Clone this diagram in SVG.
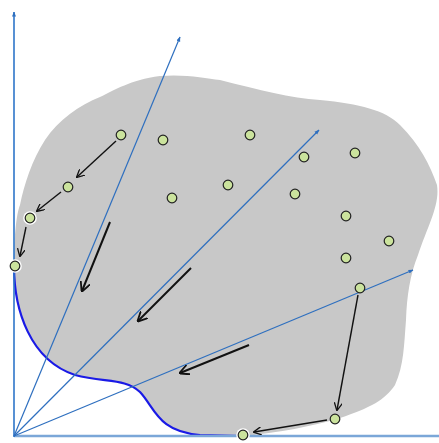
<svg xmlns="http://www.w3.org/2000/svg" width="439" height="443" viewBox="0 0 439 443">
<style>
.ax{stroke:#2e75c9;stroke-width:1.6;fill:none}
.xax{stroke:#7ba7d8;stroke-width:2.5;fill:none}
.ray{stroke:#2e6fbf;stroke-width:1.2;fill:none}
.arr{stroke:#111;stroke-width:1.4;fill:none}
.big{stroke:#111;stroke-width:2;fill:none}
.pt{fill:#cbe39d;stroke:#222;stroke-width:1.2}
.halo{fill:#fff}
</style>
<defs>
<marker id="ab" viewBox="0 0 10 10" refX="9" refY="5" markerWidth="5" markerHeight="5" orient="auto" markerUnits="userSpaceOnUse"><path d="M0,1 L10,5 L0,9 z" fill="#2e6fbf"/></marker>
<marker id="ak" viewBox="0 0 10 10" refX="9" refY="5" markerWidth="8" markerHeight="8" orient="auto" markerUnits="userSpaceOnUse"><path d="M0,0 L10,5 L0,10" fill="none" stroke="#111" stroke-width="1.6"/></marker>
<marker id="akb" viewBox="0 0 10 10" refX="9" refY="5" markerWidth="10" markerHeight="10" orient="auto" markerUnits="userSpaceOnUse"><path d="M0,0 L10,5 L0,10" fill="none" stroke="#111" stroke-width="1.8"/></marker>
</defs>
<g id="region">
<path d="M14,266 C14,240 16,215 20,205 C24,185 32,160 45,140 C58,120 80,105 100,97 C115,90 130,80 160,76 C185,74 205,78 220,80 C260,90 290,98 320,100 C360,104 385,110 400,125 C420,145 430,165 437,185 C440,205 428,225 418,255 C410,275 407,295 406,320 C404,345 404,365 395,385 C385,400 370,408 340,418 C310,427 280,432 245,436 L200,435 C158,432 155,408 140,392 C125,378 105,383 75,375 C30,360 14,310 14,266 Z" fill="#c8c8c8"/>
</g>
<g id="front">
<path d="M14,266 C14,310 30,360 75,375 C105,383 125,378 140,392 C155,408 158,432 200,435 L243,436" fill="none" stroke="#1a1ae6" stroke-width="2.2"/>
</g>
<g id="axes">
<path class="xax" d="M14,436 L439,436"/>
<path class="ax" d="M14,437 L14,12" marker-end="url(#ab)"/>
</g>
<g id="rays">
<path class="ray" d="M14,436 L180,37" marker-end="url(#ab)"/>
<path class="ray" d="M14,436 L319,130" marker-end="url(#ab)"/>
<path class="ray" d="M14,436 L413,270" marker-end="url(#ab)"/>
</g>
<g id="connectors">
<path class="arr" d="M116,141 L77,177" marker-end="url(#ak)"/>
<path class="arr" d="M61,192 L37,211" marker-end="url(#ak)"/>
<path class="arr" d="M26,227 L20,256" marker-end="url(#ak)"/>
<path class="arr" d="M358,295 L337,410" marker-end="url(#ak)"/>
<path class="arr" d="M327,420 L254,432" marker-end="url(#ak)"/>
<path class="big" d="M110,222 L82,291" marker-end="url(#akb)"/>
<path class="big" d="M191,268 L138,321" marker-end="url(#akb)"/>
<path class="big" d="M249,345 L180,373" marker-end="url(#akb)"/>
</g>
<g id="points">
<g id="p1"><circle class="pt" cx="121" cy="135" r="4.8"/></g>
<g id="p2"><circle class="pt" cx="163" cy="140" r="4.8"/></g>
<g id="p3"><circle class="pt" cx="250" cy="135" r="4.8"/></g>
<g id="p4"><circle class="pt" cx="304" cy="157" r="4.8"/></g>
<g id="p5"><circle class="pt" cx="355" cy="153" r="4.8"/></g>
<g id="p6"><circle class="pt" cx="68" cy="187" r="4.8"/></g>
<g id="p7"><circle class="pt" cx="172" cy="198" r="4.8"/></g>
<g id="p8"><circle class="pt" cx="228" cy="185" r="4.8"/></g>
<g id="p9"><circle class="pt" cx="295" cy="194" r="4.8"/></g>
<g id="p10"><circle class="pt" cx="346" cy="216" r="4.8"/></g>
<g id="p11"><circle class="pt" cx="389" cy="241" r="4.8"/></g>
<g id="p12"><circle class="pt" cx="346" cy="258" r="4.8"/></g>
<g id="p13"><circle class="pt" cx="360" cy="288" r="4.8"/></g>
<g id="p14"><circle class="pt" cx="335" cy="419" r="4.8"/></g>
<g id="p15"><circle class="halo" cx="30" cy="218" r="6.8"/><circle class="pt" cx="30" cy="218" r="4.8"/></g>
<g id="p16"><circle class="halo" cx="15" cy="266" r="6.8"/><circle class="pt" cx="15" cy="266" r="4.8"/></g>
<g id="p17"><circle class="halo" cx="243" cy="435" r="6.8"/><circle class="pt" cx="243" cy="435" r="4.8"/></g>
</g>
</svg>
